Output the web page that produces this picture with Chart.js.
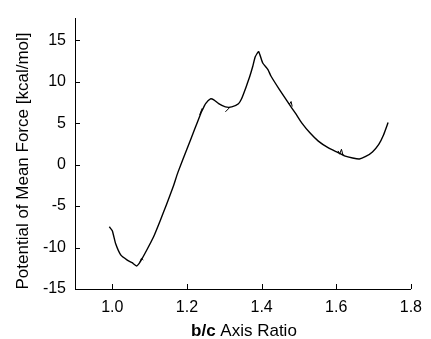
<!DOCTYPE html>
<html>
<head>
<meta charset="utf-8">
<script src="https://cdn.jsdelivr.net/npm/chart.js@4.4.1/dist/chart.umd.min.js"></script>
<style>
  html, body { margin: 0; padding: 0; background: #fff; }
  #wrap { width: 431px; height: 339px; }
</style>
</head>
<body>
<div id="wrap"><canvas id="pmfChart" width="431" height="339"></canvas></div>
<script>
// b/c axis ratio and PMF (kcal/mol)
var ratio = [0.992, 1.000, 1.009, 1.023, 1.040, 1.053, 1.065, 1.075, 1.092, 1.110,
             1.128, 1.145, 1.163, 1.176, 1.200, 1.220, 1.237, 1.241, 1.250, 1.263,
             1.272, 1.285, 1.303, 1.320, 1.338, 1.346, 1.358, 1.368, 1.376, 1.383,
             1.392, 1.403, 1.417, 1.425, 1.447, 1.473, 1.491, 1.508, 1.530,
             1.552, 1.578, 1.605, 1.622, 1.644, 1.662, 1.679, 1.697, 1.714, 1.727,
             1.739];
var pmf = [-7.5, -7.98, -9.55, -10.92, -11.51, -11.83, -12.22, -11.71, -10.33, -8.77,
           -6.8, -4.83, -2.67, -0.91, 1.87, 4.19, 6.16, 6.55, 7.34, 7.93,
           7.81, 7.34, 6.95, 6.95, 7.34, 7.9, 9.3, 10.6, 11.8, 13.0,
           13.62, 12.25, 11.46, 10.68, 9.1, 7.34, 6.17, 5.0, 3.8,
           2.83, 2.04, 1.45, 1.06, 0.79, 0.67, 0.98, 1.53, 2.44, 3.6,
           5.07];

// short overlapping window fragments (null = break)
var fragX = [1.074, 1.078, 1.083, null, 1.234, 1.241, null, 1.303, 1.316, null,
             1.475, 1.479, 1.482, null, 1.605, 1.609, 1.614, 1.618];
var fragY = [-11.7, -11.3, -11.5, null, 6.0, 6.8, null, 6.36, 6.95, null,
             7.3, 7.6, 7.0, null, 1.65, 1.25, 1.85, 1.15];

var xTicks = [1.0, 1.2, 1.4, 1.6, 1.8];
var yTicks = [-15, -10, -5, 0, 5, 10, 15];

var FONT = '"Liberation Sans", Arial, sans-serif';

var mainPts = ratio.map(function (r, i) { return { x: r, y: pmf[i] }; });
var fragPts = fragX.map(function (r, i) { return r === null ? { x: null, y: null } : { x: r, y: fragY[i] }; });

// inward ticks on both axes, plus the axis titles
var decor = {
  id: 'decor',
  afterDraw: function (chart) {
    var ctx = chart.ctx;
    var xs = chart.scales.x, ys = chart.scales.y, area = chart.chartArea;
    ctx.save();
    ctx.strokeStyle = '#000';
    ctx.lineWidth = 1;
    xTicks.forEach(function (v) {
      var px = Math.round(xs.getPixelForValue(v)) + 0.5;
      ctx.beginPath();
      ctx.moveTo(px, area.bottom);
      ctx.lineTo(px, area.bottom - 5);
      ctx.stroke();
    });
    yTicks.forEach(function (v) {
      var py = Math.round(ys.getPixelForValue(v)) + 0.5;
      ctx.beginPath();
      ctx.moveTo(area.left, py);
      ctx.lineTo(area.left + 5, py);
      ctx.stroke();
    });
    ctx.fillStyle = '#000';
    ctx.textBaseline = 'middle';
    // x title with bold "b/c"
    var bold = 'bold 17px ' + FONT, normal = '17px ' + FONT;
    ctx.font = bold;
    var w1 = ctx.measureText('b/c').width;
    ctx.font = normal;
    var w2 = ctx.measureText(' Axis Ratio').width;
    var cx = (area.left + area.right) / 2 + 1;
    var x0 = cx - (w1 + w2) / 2;
    ctx.textAlign = 'left';
    ctx.font = bold;
    ctx.fillText('b/c', x0, 331);
    ctx.font = normal;
    ctx.fillText(' Axis Ratio', x0 + w1, 331);
    // y title
    ctx.translate(23, 161);
    ctx.rotate(-Math.PI / 2);
    ctx.textAlign = 'center';
    ctx.font = normal;
    ctx.fillText('Potential of Mean Force [kcal/mol]', 0, 0);
    ctx.restore();
  }
};

var ctx = document.getElementById('pmfChart').getContext('2d');
var chart = new Chart(ctx, {
  type: 'line',
  data: {
    datasets: [{
      data: mainPts,
      borderColor: '#000',
      borderWidth: 1.4,
      pointRadius: 0,
      tension: 0.15,
      fill: false
    }, {
      data: fragPts,
      borderColor: '#000',
      borderWidth: 1,
      pointRadius: 0,
      spanGaps: false,
      fill: false
    }]
  },
  options: {
    responsive: false,
    animation: false,
    layout: { padding: { top: 13, right: 13, left: 0, bottom: 0 } },
    plugins: { legend: { display: false }, tooltip: { enabled: false } },
    scales: {
      x: {
        type: 'linear',
        min: 0.9, max: 1.8,
        afterBuildTicks: function (s) { s.ticks = xTicks.map(function (v) { return { value: v }; }); },
        afterFit: function (s) { s.height = 50; },
        grid: { display: false, drawTicks: false },
        border: { display: true, color: '#000', width: 1 },
        ticks: {
          color: '#000', padding: 9,
          font: { family: FONT, size: 16 },
          callback: function (v) { return Number(v).toFixed(1); }
        }
      },
      y: {
        min: -15, max: 17.6,
        afterBuildTicks: function (s) { s.ticks = yTicks.map(function (v) { return { value: v }; }); },
        afterFit: function (s) { s.width = 75; },
        grid: { display: false, drawTicks: false },
        border: { display: true, color: '#000', width: 1 },
        ticks: {
          color: '#000', padding: 9,
          font: { family: FONT, size: 16 }
        }
      }
    }
  },
  plugins: [decor]
});
</script>
</body>
</html>
